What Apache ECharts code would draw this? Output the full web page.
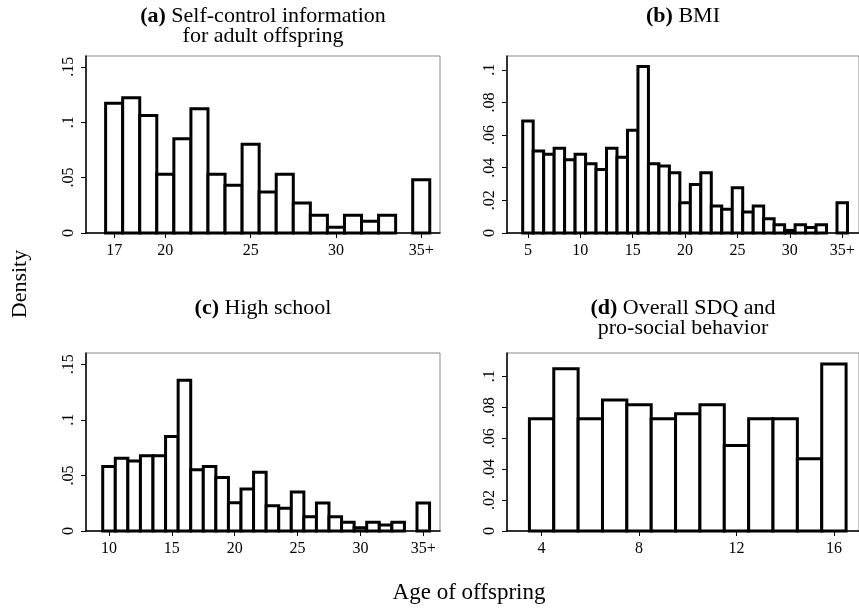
<!DOCTYPE html>
<html><head><meta charset="utf-8">
<script src="https://cdn.jsdelivr.net/npm/echarts@6/dist/echarts.min.js"></script>
<style>html,body{margin:0;padding:0;background:#fff}#c{width:859px;height:610px}</style>
</head><body><div id="c"></div>
<script>
// (a) Self-control information for adult offspring
const agesA = [17,18,19,20,21,22,23,24,25,26,27,28,29,30,31,32,33,35];
const densA = [0.117,0.122,0.106,0.053,0.085,0.112,0.053,0.043,0.080,0.037,0.053,0.027,0.016,0.0053,0.016,0.0106,0.016,0.048];
const xTicksA = [17,20,25,30,35];
// (b) BMI
const agesB = [5,6,7,8,9,10,11,12,13,14,15,16,17,18,19,20,21,22,23,24,25,26,27,28,29,30,31,32,33,35];
const densB = [0.0687,0.0503,0.0483,0.052,0.0449,0.0482,0.0424,0.039,0.052,0.0465,0.063,0.102,0.0424,0.041,0.037,0.0185,0.0298,0.037,0.0166,0.0146,0.0278,0.0128,0.0166,0.0088,0.0051,0.0016,0.0051,0.0033,0.0051,0.0185];
const xTicksB = [5,10,15,20,25,30,35];
// (c) High school
const agesC = [10,11,12,13,14,15,16,17,18,19,20,21,22,23,24,25,26,27,28,29,30,31,32,33,35];
const densC = [0.058,0.0655,0.063,0.0676,0.0676,0.085,0.1354,0.055,0.058,0.048,0.0255,0.0378,0.0529,0.0228,0.0204,0.0351,0.0129,0.0252,0.0129,0.0078,0.003,0.0078,0.0054,0.0078,0.0252];
const xTicksC = [10,15,20,25,30,35];
// (d) Overall SDQ and pro-social behavior
const agesD = [4,5,6,7,8,9,10,11,12,13,14,15,16];
const densD = [0.0725,0.1049,0.0725,0.0846,0.0816,0.0725,0.0757,0.0816,0.0552,0.0725,0.0725,0.0466,0.1079];
const xTicksD = [4,8,12,16];
const yTicksAC = [0,0.05,0.1,0.15];
const yTicksBD = [0,0.02,0.04,0.06,0.08,0.1];

const FONT = '"Liberation Serif","DejaVu Serif",serif';
const chart = echarts.init(document.getElementById('c'), null, {renderer:'canvas'});

const panels = [
  {ages:agesA, dens:densA, xt:xTicksA, yt:yTicksAC, xmin:15.35, xmax:36.1, ymax:0.1597, grid:{left:86, top:56, width:354, height:177}},
  {ages:agesB, dens:densB, xt:xTicksB, yt:yTicksBD, xmin:3.0, xmax:36.6, ymax:0.1085, grid:{left:507, top:56, width:356, height:177}},
  {ages:agesC, dens:densC, xt:xTicksC, yt:yTicksAC, xmin:8.17, xmax:36.33, ymax:0.160, grid:{left:86, top:353, width:354, height:178}},
  {ages:agesD, dens:densD, xt:xTicksD, yt:yTicksBD, xmin:2.58, xmax:17.03, ymax:0.115, grid:{left:507, top:353, width:356, height:178}}
];

function yfmt(v){ return v === 0 ? '0' : String(+v.toFixed(2)).replace(/^0/, ''); }
function xfmt(v){ return v === 35 ? '35+' : String(v); }

const grids = [], xAxes = [], yAxes = [], series = [];
panels.forEach((p, i) => {
  grids.push(Object.assign({show:true, borderColor:'#8a8a8a', borderWidth:1, backgroundColor:'transparent'}, p.grid));
  xAxes.push({type:'value', gridIndex:i, min:p.xmin, max:p.xmax,
    axisLine:{show:true, onZero:false, lineStyle:{color:'#000', width:1.5}},
    axisTick:{show:true, customValues:p.xt, length:5, lineStyle:{color:'#000', width:1}},
    axisLabel:{show:true, customValues:p.xt, formatter:xfmt, color:'#000', fontFamily:FONT, fontSize:16, margin:10},
    splitLine:{show:false}});
  yAxes.push({type:'value', gridIndex:i, min:0, max:p.ymax,
    axisLine:{show:true, onZero:false, lineStyle:{color:'#000', width:1.5}},
    axisTick:{show:true, customValues:p.yt, length:5, lineStyle:{color:'#000', width:1}},
    axisLabel:{show:true, customValues:p.yt, formatter:yfmt, rotate:90, color:'#000', fontFamily:FONT, fontSize:16, margin:9},
    splitLine:{show:false}});
  series.push({type:'custom', xAxisIndex:i, yAxisIndex:i, clip:false,
    data:p.ages.map((a, k) => [a, p.dens[k]]),
    renderItem:(params, api) => {
      const x = api.value(0), y = api.value(1);
      const p0 = api.coord([x - 0.5, y]);
      const p1 = api.coord([x + 0.5, 0]);
      return {type:'rect', shape:{x:p0[0], y:p0[1], width:p1[0]-p0[0], height:p1[1]-p0[1]},
        style:{fill:'#fff', stroke:'#000', lineWidth:3}};
    }});
});

const tStyle = {fontFamily:FONT, fontSize:22, fontWeight:'normal', color:'#000', lineHeight:20,
  rich:{b:{fontFamily:FONT, fontSize:22, fontWeight:'bold', color:'#000', lineHeight:20}}};
const titles = [
  {text:'{b|(a)} Self-control information\nfor adult offspring', left:263, top:6, textAlign:'center'},
  {text:'{b|(b)} BMI', left:683, top:6, textAlign:'center'},
  {text:'{b|(c)} High school', left:263, top:298, textAlign:'center'},
  {text:'{b|(d)} Overall SDQ and\npro-social behavior', left:683, top:298, textAlign:'center'}
].map(t => Object.assign({textStyle:tStyle, padding:0, itemGap:0}, t));

chart.setOption({
  animation:false,
  backgroundColor:'#fff',
  title:titles,
  grid:grids, xAxis:xAxes, yAxis:yAxes, series:series,
  graphic:[
    {type:'text', x:20, y:284, rotation:Math.PI/2, style:{text:'Density', font:'22px ' + FONT, fill:'#000', align:'center', verticalAlign:'middle'}},
    {type:'text', x:469, y:593, style:{text:'Age of offspring', font:'23px ' + FONT, fill:'#000', align:'center', verticalAlign:'middle'}}
  ]
});
</script></body></html>
